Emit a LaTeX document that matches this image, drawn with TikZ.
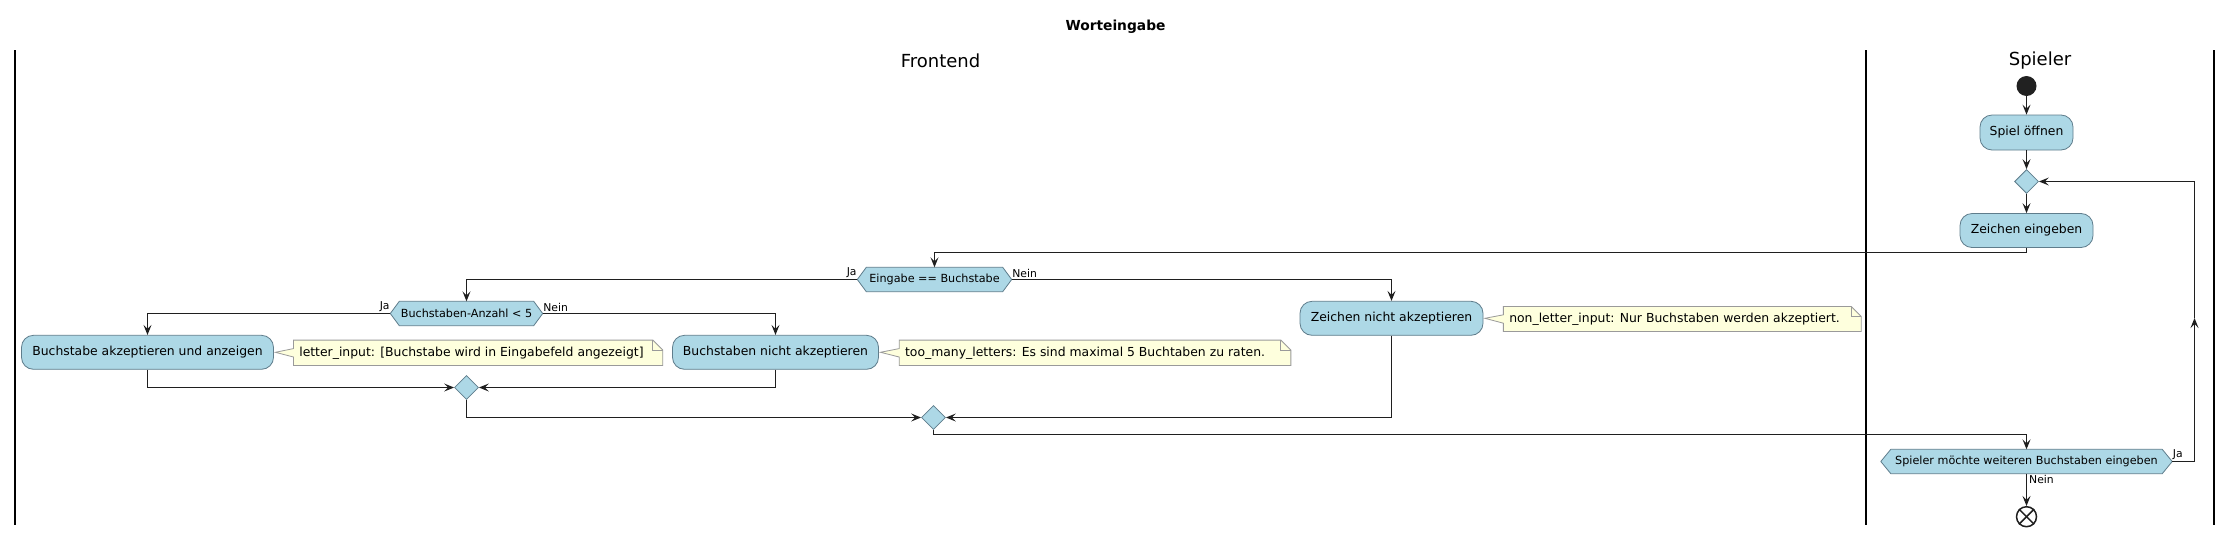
\documentclass[tikz,border=0pt]{standalone}
\usepackage{fontspec}
\setmainfont{DejaVu Sans}
\usetikzlibrary{shapes.geometric,arrows.meta}
\definecolor{actfill}{HTML}{ADD8E6}
\definecolor{actline}{HTML}{5F7D8C}
\definecolor{notefill}{HTML}{FEFFDD}
\definecolor{noteline}{HTML}{9A9A9A}
\tikzset{
 actbox/.style={rectangle, rounded corners=12pt, fill=actfill, draw=actline, line width=0.8pt, inner sep=0pt, minimum height=34pt, font=\fontsize{12.4}{14}\selectfont},
 hexholder/.style={rectangle, inner sep=0pt, minimum height=24pt},
 hexshape/.style={fill=actfill, draw=actline, line width=0.8pt},
 hextext/.style={font=\fontsize{11.2}{13}\selectfont, inner sep=0pt},
 mergedia/.style={diamond, fill=actfill, draw=actline, line width=0.8pt, minimum width=24pt, minimum height=24pt, inner sep=0pt},
 noteholder/.style={rectangle, inner sep=0pt},
 noteshape/.style={fill=notefill, draw=noteline, line width=0.8pt},
 notetext/.style={font=\fontsize{12.4}{14}\selectfont, inner sep=0pt, anchor=west},
 arr/.style={draw=black!88, line width=1.1pt, -{Stealth[length=10pt,width=8pt,inset=4pt]}},
 guard/.style={font=\fontsize{10.8}{12}\selectfont, inner sep=0.5pt},
 lane/.style={line width=1.6pt, black},
 lanehead/.style={font=\fontsize{18}{20}\selectfont, inner sep=0pt},
}
\begin{document}
\begin{tikzpicture}[x=1pt,y=-1pt]
\useasboundingbox (0,0) rectangle (2233,536);
\fill[white] (0,0) rectangle (2233,536);

% title and lanes
\node[font=\bfseries\fontsize{13.8}{16}\selectfont, inner sep=0pt] (title) at (1115.5,27) {Worteingabe};
\draw[lane] (15,50) -- (15,525);
\draw[lane] (1866,50) -- (1866,525);
\draw[lane] (2214,50) -- (2214,525);
\node[lanehead] (hfront) at (940.5,61) {Frontend};
\node[lanehead] (hspiel) at (2040,61) {Spieler};

% Spieler lane top
\node[circle, fill=black!87, minimum size=20pt, inner sep=0pt] (start) at (2026.5,86) {};
\node[actbox, minimum width=93pt, minimum height=35pt] (spiel) at (2026.5,132.5) {Spiel öffnen};
\node[mergedia] (m1) at (2026.5,181.5) {};
\node[actbox, minimum width=133pt] (zeich) at (2026.5,230.5) {Zeichen eingeben};

% decision Eingabe == Buchstabe
\node[hexholder, minimum width=136pt] (eg) at (934.5,279.5) {};
\coordinate (egW) at ([xshift=-9pt]eg.west);
\coordinate (egE) at ([xshift=9pt]eg.east);
\path[hexshape] (eg.north west) -- (eg.north east) -- (egE) -- (eg.south east) -- (eg.south west) -- (egW) -- cycle;
\node[hextext] (egt) at (eg.center) {Eingabe == Buchstabe};

% decision Buchstaben-Anzahl < 5
\node[hexholder, minimum width=134pt] (ba) at (466.5,313.5) {};
\coordinate (baW) at ([xshift=-9pt]ba.west);
\coordinate (baE) at ([xshift=9pt]ba.east);
\path[hexshape] (ba.north west) -- (ba.north east) -- (baE) -- (ba.south east) -- (ba.south west) -- (baW) -- cycle;
\node[hextext] (bat) at (ba.center) {Buchstaben-Anzahl < 5};

% actions
\node[actbox, minimum width=252pt] (akz) at (147.5,352.3) {Buchstabe akzeptieren und anzeigen};
\node[actbox, minimum width=206pt] (nak) at (775.5,352.3) {Buchstaben nicht akzeptieren};
\node[actbox, minimum width=183pt] (zna) at (1391.5,318.3) {Zeichen nicht akzeptieren};

% notes
\node[noteholder, minimum width=369pt, minimum height=25pt] (n1) at (478.1,352.8) {};
\path[noteshape] (n1.north west) -- ([xshift=-10pt]n1.north east) -- ([yshift=-10pt]n1.north east) -- (n1.south east) -- (n1.south west) -- ([yshift=-4.2pt]n1.west) -- ([xshift=1.5pt]akz.east) -- ([yshift=4.2pt]n1.west) -- cycle;
\draw[noteshape, fill=none] ([xshift=-10pt]n1.north east) |- ([yshift=-10pt]n1.north east);
\node[notetext] (n1t) at ([xshift=5.7pt]n1.west) {letter\_input: [Buchstabe wird in Eingabefeld angezeigt]};

\node[noteholder, minimum width=391.3pt, minimum height=25pt] (n2) at (1095,352.8) {};
\path[noteshape] (n2.north west) -- ([xshift=-10pt]n2.north east) -- ([yshift=-10pt]n2.north east) -- (n2.south east) -- (n2.south west) -- ([yshift=-4.2pt]n2.west) -- ([xshift=1.5pt]nak.east) -- ([yshift=4.2pt]n2.west) -- cycle;
\draw[noteshape, fill=none] ([xshift=-10pt]n2.north east) |- ([yshift=-10pt]n2.north east);
\node[notetext] (n2t) at ([xshift=5.7pt]n2.west) {too\_many\_letters: Es sind maximal 5 Buchtaben zu raten.};

\node[noteholder, minimum width=357.5pt, minimum height=24.6pt] (n3) at (1682.3,319) {};
\path[noteshape] (n3.north west) -- ([xshift=-10pt]n3.north east) -- ([yshift=-10pt]n3.north east) -- (n3.south east) -- (n3.south west) -- ([yshift=-4.2pt]n3.west) -- ([xshift=1.5pt]zna.east) -- ([yshift=4.2pt]n3.west) -- cycle;
\draw[noteshape, fill=none] ([xshift=-10pt]n3.north east) |- ([yshift=-10pt]n3.north east);
\node[notetext] (n3t) at ([xshift=5.7pt]n3.west) {non\_letter\_input: Nur Buchstaben werden akzeptiert.};

% merges
\node[mergedia] (m2) at (466.5,387.5) {};
\node[mergedia] (m3) at (933.5,417.5) {};

% final decision
\node[hexholder, minimum width=271pt] (sp) at (2026.5,461.5) {};
\coordinate (spW) at ([xshift=-10pt]sp.west);
\coordinate (spE) at ([xshift=10pt]sp.east);
\path[hexshape] (sp.north west) -- (sp.north east) -- (spE) -- (sp.south east) -- (sp.south west) -- (spW) -- cycle;
\node[hextext] (spt) at (sp.center) {Spieler möchte weiteren Buchstaben eingeben};

\node[circle, draw=black!88, fill=white, line width=1.5pt, minimum size=20pt, inner sep=0pt] (endn) at (2026.5,516.7) {};
\draw[line width=1.5pt, black!88] (endn.north west) -- (endn.south east);
\draw[line width=1.5pt, black!88] (endn.north east) -- (endn.south west);

% connectors
\draw[arr] (start) -- (spiel);
\draw[arr] (spiel) -- (m1);
\draw[arr] (m1) -- (zeich);
\draw[arr] (zeich.south) -- ++(0,5) -| (eg.north);
\draw[arr] (egW) -| (ba.north);
\draw[arr] (egE) -| (zna.north);
\draw[arr] (baW) -| (akz.north);
\draw[arr] (baE) -| (nak.north);
\draw[arr] (akz.south) |- (m2.west);
\draw[arr] (nak.south) |- (m2.east);
\draw[arr] (m2.south) |- (m3.west);
\draw[arr] (zna.south) |- (m3.east);
\draw[arr] (m3.south) -- ++(0,5) -| (sp.north);
\coordinate (loopmid) at (2194.5,318);
\draw[arr] (spE) -| (loopmid);
\draw[arr] (loopmid) |- (m1.east);
\draw[arr] (sp.south) -- (endn.north);

% guards
\node[guard, anchor=south east] (g1) at ([yshift=1pt]egW) {Ja};
\node[guard, anchor=south west] (g2) at ([yshift=1pt]egE) {Nein};
\node[guard, anchor=south east] (g3) at ([yshift=1pt]baW) {Ja};
\node[guard, anchor=south west] (g4) at ([yshift=1pt]baE) {Nein};
\node[guard, anchor=south west] (g5) at ([yshift=1pt]spE) {Ja};
\node[guard, anchor=north west] (g6) at ([xshift=2pt,yshift=-1pt]sp.south) {Nein};
\end{tikzpicture}
\end{document}
